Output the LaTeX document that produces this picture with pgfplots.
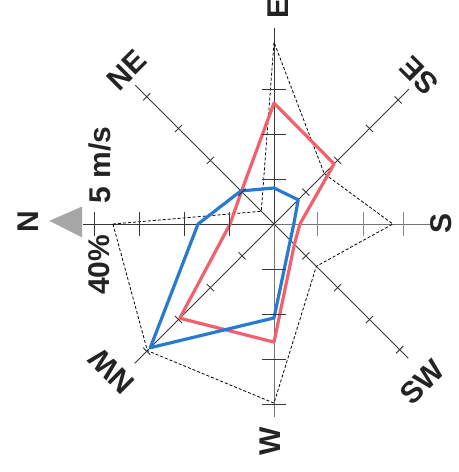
\documentclass[border=0pt]{standalone}
\usepackage{fontspec}
\setmainfont{Liberation Sans}
\usepackage{pgfplots}
\pgfplotsset{compat=1.18}
\usepackage{pgfplotstable}
\definecolor{rosered}{RGB}{242,96,108}
\definecolor{roseblue}{RGB}{40,122,208}
\definecolor{axcol}{RGB}{55,55,55}
\definecolor{labcol}{RGB}{35,35,35}

% frequency (percent), angles: N=180, NE=135, E=90, SE=45, S=0, SW=-45, W=-90, NW=-135 (chart rotated)
\pgfplotstableread{
ang pct
180 35.8
135 4.0
90 40.4
45 15.8
0 26.4
-45 13.3
-90 39.8
-135 39.8
180 35.8
}\freqtab

% mean speed (m/s), series 1 (red)
\pgfplotstableread{
ang v
180 1.22
135 1.28
90 3.36
45 2.36
0 0.72
-45 0.80
-90 3.28
-135 3.70
180 1.22
}\redtab

% mean speed (m/s), series 2 (blue)
\pgfplotstableread{
ang v
180 2.11
135 1.30
90 1.00
45 0.95
0 0.55
-45 0.64
-90 2.61
-135 4.86
180 2.11
}\bluetab

\newcommand{\labfont}{\bfseries\fontsize{30}{30}\selectfont}

\begin{document}
\begin{tikzpicture}
\begin{axis}[
  width=459pt, height=472pt, scale only axis,
  xmin=-60.89, xmax=41.11, ymin=-55.11, ymax=49.78,
  hide axis, clip=false,
]
% radial axes
\addplot[axcol, line width=0.9pt, data cs=polar] coordinates {(180,0) (180,42.4)};
\addplot[axcol, line width=0.9pt, data cs=polar] coordinates {(135,0) (135,43.6)};
\addplot[axcol, line width=0.9pt, data cs=polar] coordinates {(90,0) (90,43.6)};
\addplot[axcol, line width=0.9pt, data cs=polar] coordinates {(45,0) (45,42.4)};
\addplot[axcol!70, line width=0.9pt, data cs=polar] coordinates {(0,0) (0,34.7)};
\addplot[axcol, line width=0.9pt, data cs=polar] coordinates {(-45,0) (-45,42.2)};
\addplot[axcol!70, line width=0.9pt, data cs=polar] coordinates {(-90,0) (-90,42.9)};
\addplot[axcol, line width=0.9pt, data cs=polar] coordinates {(-135,0) (-135,43.8)};
% tick crossbars
\addplot[data cs=polar, only marks, mark=|, mark size=12pt, mark options={rotate=180, draw=axcol, line width=1pt}] coordinates {(180,10) (180,20) (180,30) (180,40)};
\addplot[data cs=polar, only marks, mark=|, mark size=12pt, mark options={rotate=90, draw=axcol, line width=1pt}] coordinates {(90,10) (90,20) (90,30)};
\addplot[data cs=polar, only marks, mark=|, mark size=12pt, mark options={rotate=0, draw=axcol!60, line width=1pt}] coordinates {(0,9.6) (0,19.8) (0,28.7)};
\addplot[data cs=polar, only marks, mark=|, mark size=12pt, mark options={rotate=-90, draw=axcol, line width=1pt}] coordinates {(-90,10) (-90,20) (-90,30) (-90,40)};
\addplot[data cs=polar, only marks, mark=|, mark size=5pt, mark options={rotate=135, draw=axcol, line width=0.9pt}] coordinates {(135,10) (135,20) (135,30) (135,40)};
\addplot[data cs=polar, only marks, mark=|, mark size=5pt, mark options={rotate=45, draw=axcol, line width=0.9pt}] coordinates {(45,10) (45,20) (45,30) (45,39)};
\addplot[data cs=polar, only marks, mark=|, mark size=5pt, mark options={rotate=-45, draw=axcol, line width=0.9pt}] coordinates {(-45,10) (-45,20) (-45,30) (-45,39.5)};
\addplot[data cs=polar, only marks, mark=|, mark size=5pt, mark options={rotate=-135, draw=axcol, line width=0.9pt}] coordinates {(-135,10) (-135,20) (-135,30) (-135,40)};
% north arrow
\addplot[fill=gray!70, draw=gray!70] coordinates {(-49.8,0.7) (-42.7,3.8) (-42.7,-2.9)} -- cycle;
% frequency polygon
\addplot[black, line width=0.8pt, densely dashed, data cs=polar] table[x=ang, y=pct] \freqtab;
% speed polygons
\addplot[rosered, line width=3.2pt, line join=round, line cap=round, data cs=polar] table[x=ang, y expr=\thisrow{v}*8] \redtab;
\addplot[roseblue, line width=3.2pt, line join=round, line cap=round, data cs=polar] table[x=ang, y expr=\thisrow{v}*8] \bluetab;
% labels
\node[rotate=90, inner sep=0pt, font=\labfont, text=labcol] at (axis cs:-54.7,0.5) {N};
\node[rotate=45, inner sep=0pt, font=\labfont, text=labcol] at (axis cs:-32.7,34.2) {NE};
\node[rotate=90, inner sep=0pt, font=\labfont, text=labcol] at (axis cs:0.9,47.8) {E};
\node[rotate=135, inner sep=0pt, font=\labfont, text=labcol] at (axis cs:32.2,32.9) {SE};
\node[rotate=90, inner sep=0pt, font=\labfont, text=labcol] at (axis cs:37.1,0.2) {S};
\node[rotate=45, inner sep=0pt, font=\labfont, text=labcol] at (axis cs:32.9,-35.1) {SW};
\node[rotate=90, inner sep=0pt, font=\labfont, text=labcol] at (axis cs:-0.9,-48.2) {W};
\node[rotate=135, inner sep=0pt, font=\labfont, text=labcol] at (axis cs:-36,-32.7) {NW};
\node[rotate=90, inner sep=0pt, font=\labfont, text=labcol] at (axis cs:-38.7,13.1) {5 m/s};
\node[rotate=90, inner sep=0pt, font=\labfont, text=labcol] at (axis cs:-38.9,-9.1) {40\%};
\end{axis}
\pgfresetboundingbox
\useasboundingbox (current axis.south west) rectangle (current axis.north east);
\end{tikzpicture}
\end{document}
